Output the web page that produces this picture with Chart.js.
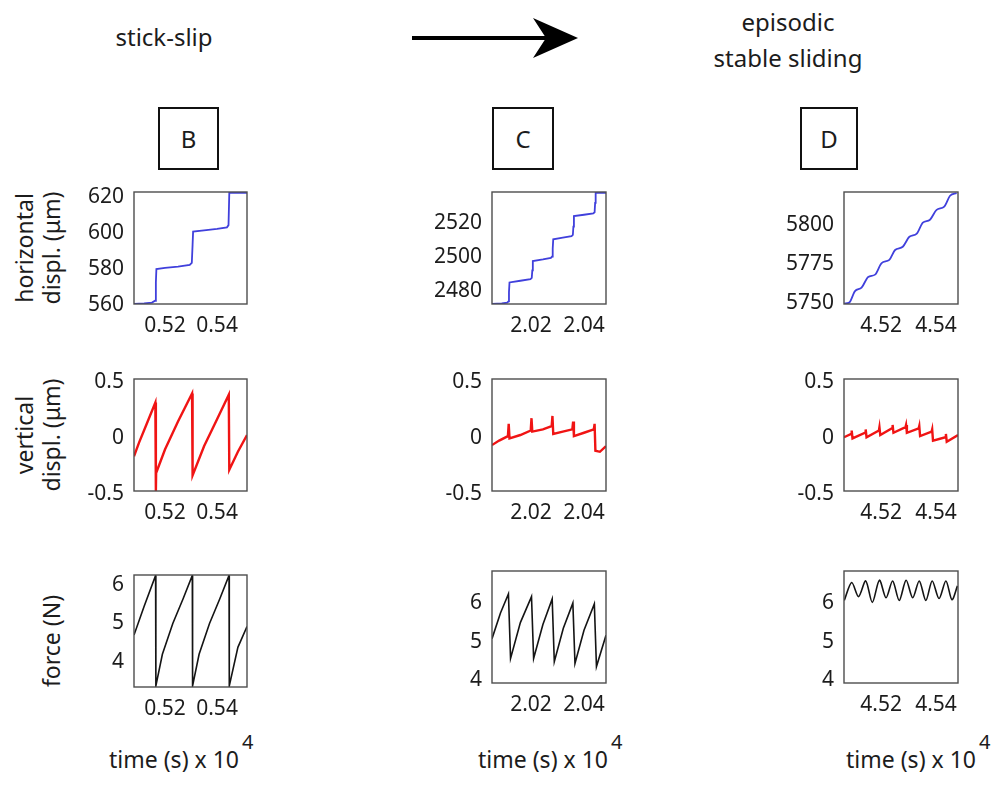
<!DOCTYPE html>
<html><head><meta charset="utf-8">
<script src="https://cdn.jsdelivr.net/npm/chart.js@4.4.1/dist/chart.umd.min.js"></script>
<style>
html,body{margin:0;padding:0;background:#fff;}
body{width:994px;height:787px;position:relative;overflow:hidden;font-family:"Noto Sans",sans-serif;color:#1c1c1c;}
.hdr{position:absolute;transform:translate(-50%,-50%);font-size:24px;line-height:30px;text-align:center;white-space:nowrap;}
.lbox{position:absolute;border:2px solid #111;box-sizing:border-box;display:flex;align-items:center;justify-content:center;font-size:24px;}
.yt{position:absolute;transform:translate(-50%,-50%) rotate(-90deg);font-size:23px;line-height:27px;text-align:center;white-space:nowrap;}
.xt{position:absolute;transform:translate(-50%,-50%);font-size:23px;white-space:nowrap;}
.xt .sup{position:absolute;left:100%;top:-15px;margin-left:3px;font-size:20px;}
canvas{position:absolute;}
</style></head><body>

<div class="hdr" style="left:164px;top:37px">stick-slip</div>
<div class="hdr" style="left:788px;top:22px">episodic</div>
<div class="hdr" style="left:788px;top:58px">stable sliding</div>
<svg style="position:absolute;left:0;top:0" width="994" height="80">
  <line x1="412" y1="38" x2="546" y2="38" stroke="#000" stroke-width="4"/>
  <polygon points="578,38 533,18 546,38 533,58" fill="#000"/>
</svg>

<div class="lbox" style="left:158px;top:107px;width:61px;height:63px">B</div>
<div class="lbox" style="left:492px;top:107px;width:62px;height:63px">C</div>
<div class="lbox" style="left:800px;top:107px;width:58px;height:63px">D</div>

<div class="yt" style="left:38px;top:248px">horizontal<br>displ. (μm)</div>
<div class="yt" style="left:38px;top:435px">vertical<br>displ. (μm)</div>
<div class="yt" style="left:51px;top:641px">force (N)</div>

<div class="xt" style="left:174px;top:759px">time (s) x 10<span class="sup">4</span></div>
<div class="xt" style="left:543px;top:759px">time (s) x 10<span class="sup">4</span></div>
<div class="xt" style="left:911px;top:759px">time (s) x 10<span class="sup">4</span></div>

<script>
// ---------- tick labels ----------
const xTicksB = [0.52, 0.54];
const xTicksC = [2.02, 2.04];
const xTicksD = [4.52, 4.54];
const yTicksHorizB = [560, 580, 600, 620];
const yTicksHorizC = [2480, 2500, 2520];
const yTicksHorizD = [5750, 5775, 5800];
const yTicksVert = [-0.5, 0, 0.5];
const yTicksForce = [4, 5, 6];

// ---------- column B (stick-slip) ----------
const tHorizB = [0.5081,0.5120,0.5150,0.5162,0.5165,0.5167,0.5200,0.5250,0.5295,0.5303,0.5306,0.5308,0.5350,0.5400,0.5438,0.5444,0.5447,0.5515];
const horizB  = [560.0,560.3,560.8,561.8,572.0,579.5,580.2,580.9,581.8,583.0,593.0,600.4,601.1,601.9,602.8,604.0,622.0,622.0];

const tVertB = [0.5081,0.5100,0.5130,0.5163,0.5165,0.5166,0.5200,0.5250,0.5304,0.5306,0.5350,0.5400,0.5445,0.5447,0.5480,0.5515];
const vertB  = [-0.19,-0.07,0.10,0.29,-0.50,-0.34,-0.13,0.12,0.37,-0.36,-0.10,0.14,0.36,-0.31,-0.15,0.00];

const tForceB = [0.5081,0.5120,0.5164,0.5165,0.5190,0.5230,0.5270,0.5305,0.5306,0.5331,0.5371,0.5411,0.5446,0.5447,0.5480,0.5515];
const forceB  = [4.70,5.45,6.25,3.38,4.20,5.00,5.65,6.25,3.38,4.20,5.00,5.65,6.25,3.38,4.38,4.92];

// ---------- column C ----------
const tHorizC = [2.0053,2.0090,2.0110,2.0115,2.0117,2.0119,2.0160,2.0198,2.0203,2.0205,2.0207,2.0245,2.0275,2.0280,2.0282,2.0284,2.0320,2.0353,2.0358,2.0360,2.0362,2.0400,2.0435,2.0440,2.0442,2.0444,2.0483];
const horizC  = [2472,2472.3,2472.8,2473.5,2479,2484.8,2485.8,2486.8,2487.5,2492,2497.5,2498.5,2499.4,2500.2,2505,2510.4,2511.4,2512.3,2513,2518,2524.2,2525,2525.8,2526.5,2532,2538,2538];

const tVertC = [2.0053,2.0080,2.0113,2.0116,2.0119,2.0160,2.0199,2.0202,2.0205,2.0245,2.0278,2.0281,2.0284,2.0320,2.0356,2.0359,2.0362,2.0400,2.0437,2.0440,2.0443,2.0460,2.0483];
const vertC  = [-0.09,-0.05,-0.01,0.10,-0.03,0.00,0.04,0.15,0.03,0.05,0.08,0.17,0.01,0.03,0.05,0.12,-0.01,0.02,0.05,0.10,-0.14,-0.15,-0.10];

const tForceC = [2.0053,2.0085,2.0115,2.0123,2.0160,2.0202,2.0210,2.0245,2.0280,2.0288,2.0322,2.0358,2.0366,2.0400,2.0439,2.0447,2.0483];
const forceC  = [5.08,5.75,6.25,4.56,5.50,6.18,4.56,5.45,6.12,4.48,5.35,6.01,4.43,5.30,5.99,4.35,5.17];

// ---------- column D (episodic stable sliding) ----------
const tHorizD = [4.5066,4.5084,4.5105,4.5129,4.5153,4.5178,4.5202,4.5230,4.5251,4.5279,4.5303,4.5330,4.5352,4.5378,4.5402,4.5430,4.5451,4.5475];
const horizD  = [5749.8,5750.4,5757.8,5760.0,5766.9,5768.4,5775.8,5777.9,5784.2,5786.3,5792.7,5794.8,5801.8,5803.7,5810.0,5812.1,5819.1,5820.8];

const tVertD = [4.5065,4.5091,4.5093,4.5096,4.5142,4.5144,4.5147,4.5192,4.5194,4.5197,4.5240,4.5242,4.5245,4.5289,4.5291,4.5294,4.5337,4.5339,4.5342,4.5384,4.5386,4.5389,4.5434,4.5436,4.5439,4.5480];
const vertD  = [-0.02,0.01,0.04,-0.03,0.02,0.05,-0.02,0.04,0.07,0.00,0.06,0.09,0.02,0.07,0.09,0.02,0.06,0.08,-0.01,0.03,0.05,-0.05,-0.02,0.01,-0.06,0.00];

const tForceD = [4.5066,4.5093,4.5118,4.5144,4.5168,4.5194,4.5218,4.5242,4.5266,4.5291,4.5315,4.5339,4.5363,4.5386,4.5411,4.5436,4.5458,4.5478];
const forceD  = [6.08,6.55,6.18,6.59,6.03,6.61,6.15,6.59,6.08,6.61,6.15,6.59,6.08,6.59,6.13,6.59,6.10,6.46];

// ---------- drawing ----------
const FONT = '"Noto Sans", sans-serif';
const TXT = '#1c1c1c';
const BLUE = '#4040dc', RED = '#f01414', BLACK = '#141414';

const boxPlugin = {
  id: 'box',
  afterDatasetsDraw(chart) {
    const a = chart.chartArea, c = chart.ctx;
    c.save();
    c.strokeStyle = '#4d4d4d';
    c.lineWidth = 1.4;
    c.strokeRect(a.left, a.top, a.right - a.left, a.bottom - a.top);
    c.restore();
  }
};

function pairs(xs, ys) { return xs.map((x, i) => ({ x: x, y: ys[i] })); }
function fmt(v) { return String(v); }

function panel(left, top, w, h, xs, ys, xr, yr, xt, yt, color, lw, tension, mono, yLabelShift) {
  const cv = document.createElement('canvas');
  const W = w + 105, H = h + 70;
  cv.width = W; cv.height = H;
  cv.style.left = (left - 80) + 'px';
  cv.style.top = (top - 25) + 'px';
  cv.style.width = W + 'px'; cv.style.height = H + 'px';
  document.body.appendChild(cv);
  new Chart(cv, {
    type: 'line',
    data: { datasets: [{
      data: pairs(xs, ys),
      borderColor: color, borderWidth: lw,
      pointRadius: 0, tension: tension,
      cubicInterpolationMode: mono ? 'monotone' : 'default',
      fill: false
    }]},
    options: {
      responsive: false, animation: false, devicePixelRatio: 1,
      layout: { padding: { top: 25, right: 25, left: 0, bottom: 0 } },
      plugins: { legend: { display: false }, tooltip: { enabled: false } },
      scales: {
        x: {
          type: 'linear', min: xr[0], max: xr[1],
          afterBuildTicks: s => { s.ticks = xt.map(v => ({ value: v })); },
          afterFit: s => { s.height = 45; },
          grid: { display: false, drawTicks: false }, border: { display: false },
          ticks: { font: { family: FONT, size: 21 }, color: TXT, padding: 9, maxRotation: 0, autoSkip: false,
                   callback: v => v.toFixed(2) }
        },
        y: {
          type: 'linear', min: yr[0], max: yr[1],
          afterBuildTicks: s => { s.ticks = yt.map(v => ({ value: v })); },
          afterFit: s => { s.width = 80; },
          grid: { display: false, drawTicks: false }, border: { display: false },
          ticks: { font: { family: FONT, size: 21 }, color: TXT, padding: 10, autoSkip: false,
                   labelOffset: yLabelShift || 0, callback: v => fmt(v) }
        }
      }
    },
    plugins: [boxPlugin]
  });
}

const xrB = [0.5081, 0.5515], xrC = [2.0053, 2.0483], xrD = [4.5065, 4.5480];

// row 1: horizontal displacement
panel(134, 192, 113, 112, tHorizB, horizB, xrB, [560, 622.5], xTicksB, yTicksHorizB, BLUE, 1.8, 0, false, 1);
panel(492, 192, 114, 112, tHorizC, horizC, xrC, [2472, 2538.5], xTicksC, yTicksHorizC, BLUE, 1.8, 0, false, 0);
panel(844, 192, 114, 112, tHorizD, horizD, xrD, [5749.5, 5821.5], xTicksD, yTicksHorizD, BLUE, 1.8, 0, true, 0);
// row 2: vertical displacement
panel(134, 379, 113, 112, tVertB, vertB, xrB, [-0.5, 0.5], xTicksB, yTicksVert, RED, 2.4, 0, false, 3);
panel(492, 379, 114, 112, tVertC, vertC, xrC, [-0.5, 0.5], xTicksC, yTicksVert, RED, 2.4, 0, false, 3);
panel(844, 379, 114, 112, tVertD, vertD, xrD, [-0.5, 0.5], xTicksD, yTicksVert, RED, 2.4, 0, false, 3);
// row 3: force
panel(134, 575, 113, 112, tForceB, forceB, xrB, [3.35, 6.26], xTicksB, yTicksForce, BLACK, 1.6, 0, false, 0);
panel(492, 571, 114, 112, tForceC, forceC, xrC, [3.92, 6.85], xTicksC, yTicksForce, BLACK, 1.6, 0, false, 0);
panel(844, 571, 114, 112, tForceD, forceD, xrD, [3.92, 6.85], xTicksD, yTicksForce, BLACK, 1.6, 0.3, false, 0);
</script>
</body></html>
